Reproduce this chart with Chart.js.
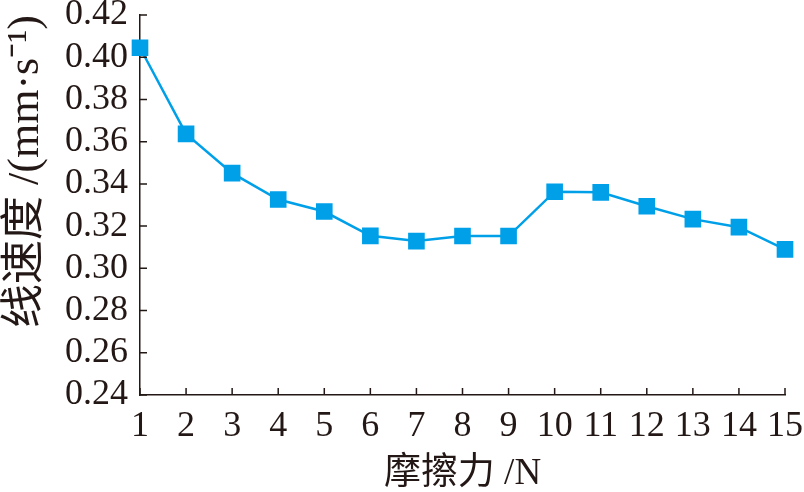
<!DOCTYPE html>
<html><head><meta charset="utf-8">
<script src="https://cdn.jsdelivr.net/npm/chart.js@4"></script>
<style>html,body{margin:0;padding:0;background:#fff}#wrap{width:804px;height:492px}</style>
</head><body><div id="wrap"><canvas id="c" width="804" height="492"></canvas></div>
<script>
const frictionN = [1,2,3,4,5,6,7,8,9,10,11,12,13,14,15];
const lineSpeed = [0.4045,0.3637,0.3451,0.3326,0.3269,0.3154,0.3129,0.3153,0.3153,0.3363,0.3360,0.3294,0.3233,0.3195,0.3090];
const yTitle = '线速度 /(mm·s⁻¹)';
const xTitle = '摩擦力 /N';

const FONT = '"Liberation Serif","Noto Sans CJK SC",serif';
const INK = '#231815';
const BLUE = '#00a0e9';

const inTicks = {
  id: 'inTicks',
  afterDraw(chart) {
    const {ctx, scales:{x, y}} = chart;
    ctx.save();
    ctx.strokeStyle = INK; ctx.lineWidth = 1.5;
    ctx.beginPath();
    x.ticks.forEach(t => { const px = x.getPixelForValue(t.value); ctx.moveTo(px, y.bottom); ctx.lineTo(px, y.bottom - 7); });
    y.ticks.forEach(t => { const py = y.getPixelForValue(t.value); ctx.moveTo(x.left, py); ctx.lineTo(x.left + 7, py); });
    ctx.stroke();
    ctx.restore();
  }
};

new Chart(document.getElementById('c'), {
  type: 'line',
  data: { datasets: [{
    data: frictionN.map((v,i)=>({x:v, y:lineSpeed[i]})),
    borderColor: BLUE, backgroundColor: BLUE, borderWidth: 2.5,
    pointStyle: 'rect', pointRadius: 10, pointHoverRadius: 10, tension: 0, clip: false
  }]},
  options: {
    responsive: false, animation: false,
    layout: { padding: { top: 15, right: 19, left: 0, bottom: 0 } },
    plugins: { legend: { display: false }, tooltip: { enabled: false } },
    scales: {
      x: { type: 'linear', min: 1, max: 15,
        afterFit: s => { s.height = 97; s.paddingLeft = 0; s.paddingRight = 0; },
        grid: { display: false, drawTicks: false },
        border: { display: true, color: INK, width: 1.5 },
        ticks: { stepSize: 1, padding: 10, color: INK, font: { family: FONT, size: 36 }, maxRotation: 0, autoSkip: false },
        title: { display: true, text: xTitle, color: INK, font: { family: FONT, size: 37 }, padding: { top: 0, bottom: -4 } }
      },
      y: { min: 0.24, max: 0.42,
        afterFit: s => { s.width = 140; s.paddingTop = 0; s.paddingBottom = 0; },
        grid: { display: false, drawTicks: false },
        border: { display: true, color: INK, width: 1.5 },
        ticks: { stepSize: 0.02, padding: 12, color: INK, font: { family: FONT, size: 36 }, autoSkip: false, callback: v => v.toFixed(2) },
        title: { display: true, text: yTitle, align: 'end', color: INK, font: { family: FONT, size: 44 }, padding: { top: 0, bottom: 0 } }
      }
    }
  },
  plugins: [inTicks]
});
</script></body></html>
